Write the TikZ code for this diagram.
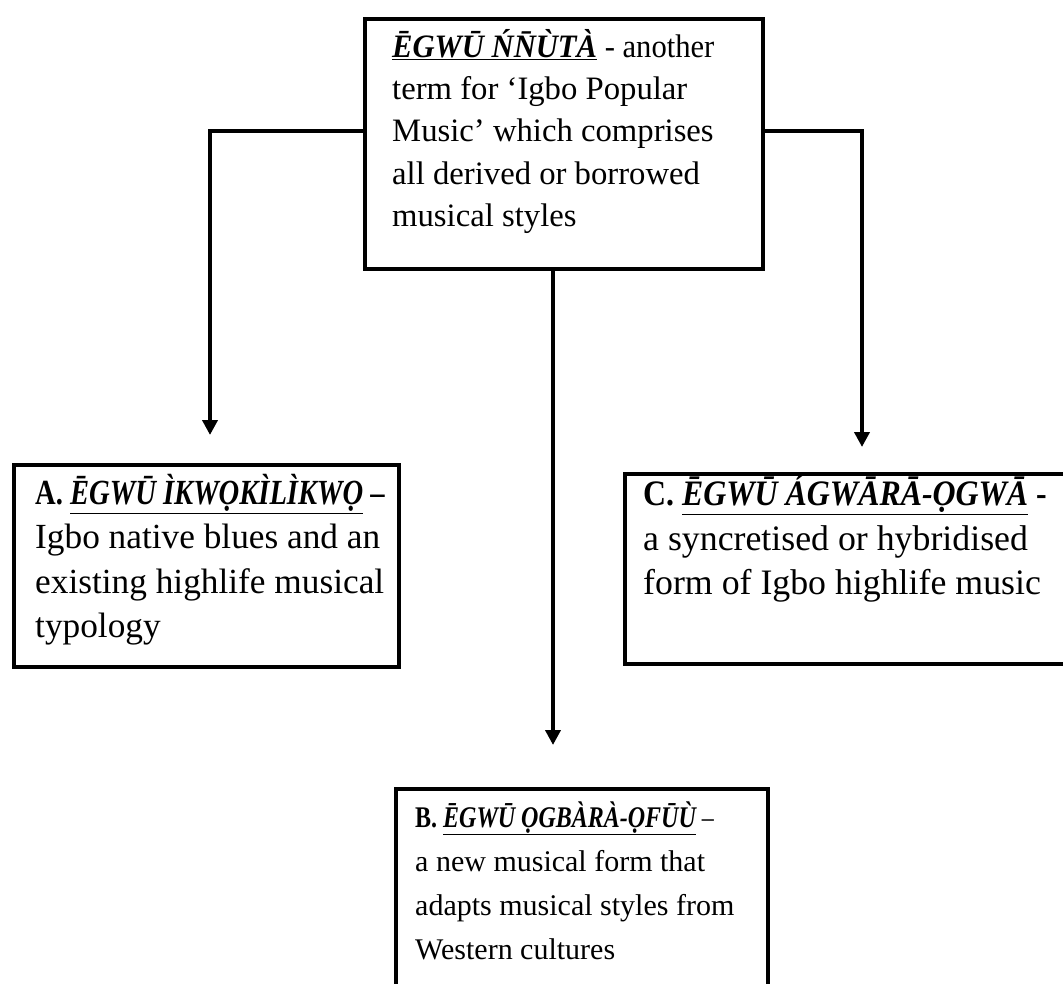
\documentclass[tikz,border=0pt]{standalone}
\usepackage{fontspec}
\setmainfont{Liberation Serif}
\usetikzlibrary{arrows.meta}
\tikzset{
  box/.style={draw=black, line width=4pt, rectangle, inner sep=0pt, anchor=north west},
  txt/.style={anchor=north west, inner sep=0pt, align=left},
  arr/.style={line width=4pt, -{Triangle[width=15pt,length=15pt]}},
}
\newcommand{\nm}[1]{\textbf{\textit{\underline{#1}}}}
\newcommand{\fl}[2]{\rule{0pt}{30pt}\scalebox{#1}[1]{#2}}
\begin{document}
\begin{tikzpicture}[x=1pt,y=-1pt]
\useasboundingbox (0,0) rectangle (1063,984);
\begin{scope}
\clip (0,0) rectangle (1063,984);
\node[box, minimum width=398pt, minimum height=250pt] (top) at (363,17) {};
\node[box, minimum width=385pt, minimum height=202pt] (left) at (12,463) {};
\node[box, minimum width=474pt, minimum height=190pt] (right) at (623,472) {};
\node[box, minimum width=372pt, minimum height=230pt] (bot) at (394,787) {};

\node[txt, font=\fontsize{32.7}{42.3}\selectfont] (toptext) at (392,27)
  {\fl{0.936}{\nm{ĒGWŪ ŃN̄ÙTÀ} - another}\\ term for ‘Igbo Popular\\ Music’ which comprises\\ all derived or borrowed\\ musical styles};
\node[txt, font=\fontsize{35.3}{44.5}\selectfont] (lefttext) at (35,474)
  {\fl{0.81}{\textbf{A. }\nm{ĒGWŪ ÌKWỌKÌLÌKWỌ} \textbf{–}}\\ Igbo native blues and an\\ existing highlife musical\\ typology};
\node[txt, font=\fontsize{35.8}{44.5}\selectfont] (righttext) at (643,475)
  {\fl{0.89}{\textbf{C. }\nm{ĒGWŪ ÁGWĀRĀ-ỌGWĀ} \textbf{-}}\\ a syncretised or hybridised\\ form of Igbo highlife music};
\node[txt, font=\fontsize{30}{44}\selectfont] (bottext) at (415,797)
  {\fl{0.8}{\textbf{B. }\nm{ĒGWŪ ỌGBÀRÀ-ỌFŪÙ} –}\\ a new musical form that\\ adapts musical styles from\\ Western cultures};
\end{scope}

\draw[arr, shorten >=28pt] ([yshift=13pt]top.west) -| ([xshift=3.5pt]left.north);
\draw[arr, shorten >=25pt] ([yshift=13pt]top.east) -| (right.north);
\draw[arr, shorten >=42pt] ([xshift=-11pt]top.south) -- ([xshift=-11pt]top.south |- bot.north);
\end{tikzpicture}
\end{document}
